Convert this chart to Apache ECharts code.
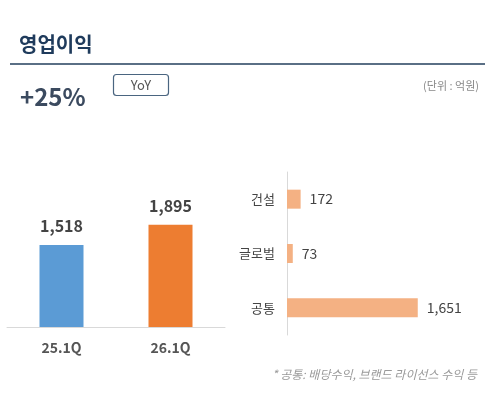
<!DOCTYPE html>
<html>
<head>
<meta charset="utf-8">
<script src="https://cdn.jsdelivr.net/npm/echarts@6/dist/echarts.min.js"></script>
<style>
  html, body { margin: 0; padding: 0; background: #fff; }
  #main { width: 500px; height: 398px; }
</style>
</head>
<body>
<div id="main"></div>
<script>
  // 분기별 영업이익
  const quarters = ['25.1Q', '26.1Q'];
  const profit = [1518, 1895];
  const barColors = ['#5B9BD5', '#ED7D31'];

  // 부문별 (26.1Q)
  const segments = ['건설', '글로벌', '공통'];
  const segmentValues = [172, 73, 1651];

  const FONT = '"Noto Sans CJK KR", "Noto Sans", sans-serif';

  const chart = echarts.init(document.getElementById('main'));
  const option = {
    backgroundColor: '#fff',
    textStyle: { fontFamily: FONT },
    title: [
      {
        text: '영업이익', left: 14, top: 29,
        textStyle: { fontFamily: FONT, fontSize: 20, fontWeight: 'bold', color: '#1F3B5C' }
      },
      {
        text: '+25%', left: 15, top: 80,
        textStyle: { fontFamily: FONT, fontSize: 24, fontWeight: 'bold', color: '#3B4A5F' }
      },
      {
        text: '(단위 : 억원)', right: 16, top: 75,
        textStyle: { fontFamily: FONT, fontSize: 11, fontWeight: 'normal', color: '#888' }
      },
      {
        text: '* 공통: 배당수익, 브랜드 라이선스 수익 등', right: 18, top: 363,
        textStyle: { fontFamily: FONT, fontSize: 12, fontStyle: 'italic', fontWeight: 'normal', color: '#999' }
      }
    ],
    graphic: [
      {
        type: 'line',
        shape: { x1: 10, y1: 64, x2: 485, y2: 64 },
        style: { stroke: '#5A6F85', lineWidth: 2 }
      },
      {
        type: 'rect',
        shape: { x: 113.5, y: 74.5, width: 55, height: 21, r: 3 },
        style: { fill: '#fff', stroke: '#4A6580', lineWidth: 1.2 }
      },
      {
        type: 'text',
        x: 141, y: 85,
        style: {
          text: 'YoY', fontFamily: FONT, fontSize: 13, fill: '#555',
          align: 'center', verticalAlign: 'middle'
        }
      }
    ],
    grid: [
      { left: 7, right: 275, top: 165, bottom: 71 },
      { left: 287, right: 15, top: 172, bottom: 63 }
    ],
    xAxis: [
      {
        gridIndex: 0, type: 'category', data: quarters,
        axisLine: { lineStyle: { color: '#D9D9D9', width: 1 } },
        axisTick: { show: false },
        axisLabel: { margin: 14, fontSize: 14, fontWeight: 'bold', color: '#555', fontFamily: FONT }
      },
      {
        gridIndex: 1, type: 'value', min: 0, max: 2500,
        show: false
      }
    ],
    yAxis: [
      {
        gridIndex: 0, type: 'value', min: 0, max: 3000,
        show: false
      },
      {
        gridIndex: 1, type: 'category', data: segments, inverse: true,
        axisLine: { lineStyle: { color: '#D9D9D9', width: 1 } },
        axisTick: { show: false },
        axisLabel: { margin: 12, fontSize: 13, color: '#444', fontFamily: FONT }
      }
    ],
    series: [
      {
        type: 'bar', xAxisIndex: 0, yAxisIndex: 0,
        barWidth: 44,
        data: profit.map((v, i) => ({ value: v, itemStyle: { color: barColors[i] } })),
        label: {
          show: true, position: 'top', distance: 11,
          fontSize: 16, fontWeight: 'bold', color: '#444', fontFamily: FONT,
          formatter: p => p.value.toLocaleString('en-US')
        }
      },
      {
        type: 'bar', xAxisIndex: 1, yAxisIndex: 1,
        barWidth: 19,
        itemStyle: { color: '#F4B183' },
        data: segmentValues,
        label: {
          show: true, position: 'right', distance: 9,
          fontSize: 14, color: '#444', fontFamily: FONT,
          formatter: p => p.value.toLocaleString('en-US')
        }
      }
    ]
  };
  chart.setOption(option);
</script>
</body>
</html>
